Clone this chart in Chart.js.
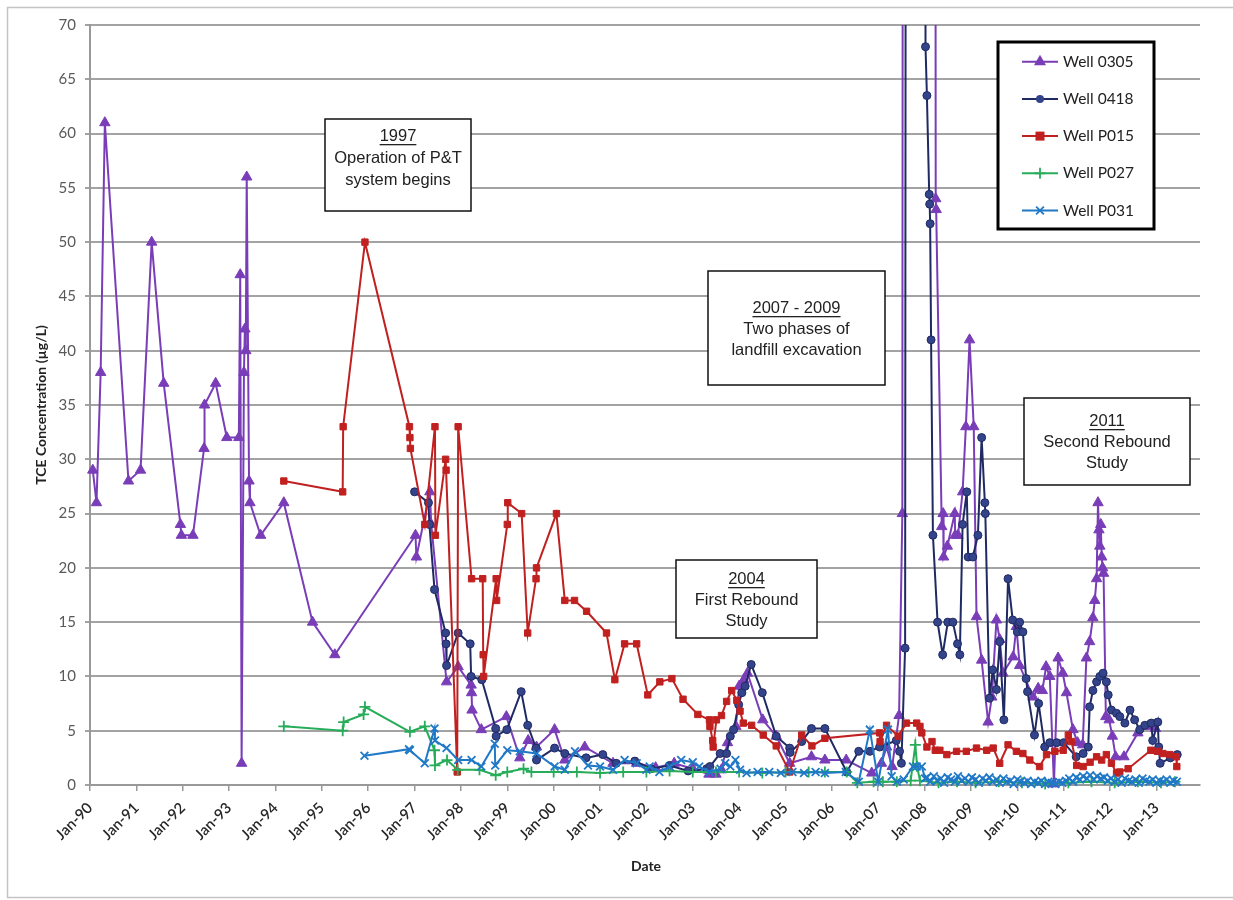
<!DOCTYPE html>
<html>
<head>
<meta charset="utf-8">
<script src="https://cdn.jsdelivr.net/npm/chart.js@4.4.1/dist/chart.umd.min.js"></script>
<style>
  body { margin: 0; background: #fff; }
  #wrap { width: 1233px; height: 900px; position: relative; }
</style>
</head>
<body>
<div id="wrap"><canvas id="chart"></canvas></div>
<script>
// tick labels for the date axis (one per January)
var yearLabels = ["Jan-90", "Jan-91", "Jan-92", "Jan-93", "Jan-94", "Jan-95", "Jan-96", "Jan-97",
    "Jan-98", "Jan-99", "Jan-00", "Jan-01", "Jan-02", "Jan-03", "Jan-04", "Jan-05", "Jan-06",
    "Jan-07", "Jan-08", "Jan-09", "Jan-10", "Jan-11", "Jan-12", "Jan-13"];
var yTicks = [0, 5, 10, 15, 20, 25, 30, 35, 40, 45, 50, 55, 60, 65, 70];

// [decimal year, TCE ug/L]  (values above 70 run off the top of the plot)
var well0305 = [
    [1990.06, 29], [1990.14, 26], [1990.23, 38], [1990.32, 61], [1990.83, 28], [1991.09, 29],
    [1991.33, 50], [1991.59, 37], [1991.95, 24], [1991.97, 23], [1992.22, 23], [1992.46, 31],
    [1992.47, 35], [1992.71, 37], [1992.95, 32], [1993.21, 32], [1993.24, 47], [1993.27, 2],
    [1993.32, 38], [1993.34, 42], [1993.36, 40], [1993.38, 56], [1993.43, 28], [1993.45, 26],
    [1993.68, 23], [1994.18, 26], [1994.8, 15], [1995.28, 12], [1997.02, 23], [1997.04, 21],
    [1997.33, 27], [1997.36, 24], [1997.69, 9.5], [1997.94, 10.9], [1998.22, 9.2], [1998.23, 8.5],
    [1998.24, 6.9], [1998.44, 5.1], [1998.98, 6.3], [1999.27, 2.5], [1999.45, 4.1], [1999.63, 3.5],
    [2000.02, 5.1], [2000.24, 2.3], [2000.67, 3.5], [2001.28, 2.0], [2001.79, 2.0], [2002.2, 1.6],
    [2002.6, 2.0], [2003.0, 1.5], [2003.35, 1.0], [2003.5, 1.0], [2003.62, 1.4], [2003.75, 3.9],
    [2003.93, 5.4], [2004.0, 9.1], [2004.1, 9.7], [2004.18, 10.3], [2004.51, 6.0], [2004.8, 4.5],
    [2005.09, 2.0], [2005.56, 2.6], [2005.85, 2.3], [2006.31, 2.3], [2006.86, 1.1], [2007.07, 2.0],
    [2007.18, 3.5], [2007.3, 1.7], [2007.45, 6.4], [2007.52, 25], [2007.56, 300], [2008.2, 300],
    [2008.24, 54], [2008.25, 53], [2008.37, 23.8], [2008.4, 25], [2008.41, 21], [2008.49, 22],
    [2008.65, 25], [2008.66, 23], [2008.72, 23], [2008.82, 27], [2008.89, 33], [2008.97, 41],
    [2009.06, 33], [2009.12, 15.5], [2009.23, 11.5], [2009.37, 5.8], [2009.45, 8.1], [2009.55, 15.2],
    [2009.62, 13.4], [2009.69, 10.3], [2009.91, 11.8], [2009.98, 14.6], [2010.05, 11], [2010.34, 8.1],
    [2010.45, 8.9], [2010.54, 8.7], [2010.62, 10.9], [2010.7, 10], [2010.79, 0.1], [2010.88, 11.7],
    [2010.98, 10.3], [2011.06, 8.5], [2011.2, 5.1], [2011.3, 3.9], [2011.41, 3.7], [2011.49, 11.7],
    [2011.56, 13.2], [2011.63, 15.4], [2011.67, 17], [2011.71, 19], [2011.74, 26], [2011.76, 23.5],
    [2011.78, 22], [2011.8, 24], [2011.82, 21], [2011.84, 20], [2011.86, 19.5], [2011.91, 6.3],
    [2011.98, 6], [2012.05, 4.5], [2012.12, 2.6], [2012.3, 2.6], [2012.6, 4.8], [2012.82, 5.4],
    [2012.98, 5.2]
];

var well0418 = [
    [1997.0, 27], [1997.3, 26], [1997.32, 24], [1997.43, 18], [1997.67, 14], [1997.68, 13],
    [1997.69, 11], [1997.94, 14], [1998.2, 13], [1998.22, 10], [1998.45, 9.7], [1998.75, 5.2],
    [1998.76, 4.5], [1998.99, 5.1], [1999.3, 8.6], [1999.44, 5.5], [1999.62, 3.4], [1999.63, 2.3],
    [2000.02, 3.4], [2000.24, 2.9], [2000.7, 2.5], [2001.06, 2.8], [2001.35, 2.0], [2001.75, 2.2],
    [2002.1, 1.5], [2002.5, 1.8], [2002.9, 1.3], [2003.3, 1.5], [2003.37, 1.7], [2003.59, 2.9],
    [2003.73, 2.9], [2003.81, 4.5], [2003.88, 5.1], [2003.99, 7.4], [2004.06, 8.5], [2004.13, 9.1],
    [2004.26, 11.1], [2004.5, 8.5], [2004.8, 4.5], [2005.09, 3.4], [2005.1, 3.0], [2005.35, 4.0],
    [2005.56, 5.2], [2005.85, 5.2], [2006.32, 1.2], [2006.58, 3.1], [2006.82, 3.1], [2007.03, 3.5],
    [2007.39, 4.1], [2007.46, 3.1], [2007.5, 2.0], [2007.58, 12.6], [2007.63, 300], [2007.98, 300],
    [2008.02, 68], [2008.05, 63.5], [2008.1, 54.4], [2008.11, 53.5], [2008.12, 51.7], [2008.14, 41],
    [2008.18, 23], [2008.28, 15], [2008.39, 12], [2008.5, 15], [2008.61, 15], [2008.71, 13],
    [2008.76, 12], [2008.82, 24], [2008.91, 27], [2008.94, 21], [2009.04, 21], [2009.15, 23],
    [2009.23, 32], [2009.3, 26], [2009.31, 25], [2009.4, 8], [2009.47, 10.6], [2009.55, 8.8],
    [2009.62, 13.2], [2009.71, 6], [2009.8, 19], [2009.9, 15.2], [2010.0, 14.1], [2010.05, 15],
    [2010.12, 14.1], [2010.19, 9.8], [2010.22, 8.6], [2010.37, 4.6], [2010.46, 7.5], [2010.59, 3.5],
    [2010.7, 3.9], [2010.85, 3.9], [2011.0, 3.9], [2011.27, 2.6], [2011.42, 2.9], [2011.53, 3.5],
    [2011.56, 7.2], [2011.63, 8.7], [2011.71, 9.5], [2011.78, 10], [2011.85, 10.3], [2011.92, 9.5],
    [2011.96, 8.3], [2012.03, 6.9], [2012.14, 6.6], [2012.21, 6.3], [2012.32, 5.7], [2012.43, 6.9],
    [2012.53, 6.0], [2012.64, 5.1], [2012.75, 5.5], [2012.89, 5.7], [2012.92, 4.1], [2013.03, 5.8],
    [2013.05, 3.5], [2013.08, 2.0], [2013.3, 2.5], [2013.45, 2.8]
];

var wellP015 = [
    [1994.18, 28], [1995.45, 27], [1995.46, 33], [1995.93, 50], [1996.89, 33], [1996.9, 32],
    [1996.91, 31], [1997.22, 24], [1997.44, 33], [1997.45, 23], [1997.67, 30], [1997.68, 29],
    [1997.92, 1.2], [1997.94, 33], [1998.23, 19], [1998.47, 19], [1998.48, 12], [1998.49, 10],
    [1998.76, 19], [1998.77, 17], [1999.0, 24], [1999.01, 26], [1999.31, 25], [1999.44, 14],
    [1999.62, 19], [1999.63, 20], [2000.06, 25], [2000.24, 17], [2000.45, 17], [2000.71, 16],
    [2001.14, 14], [2001.32, 9.7], [2001.53, 13], [2001.79, 13], [2002.03, 8.3], [2002.29, 9.5],
    [2002.55, 9.8], [2002.79, 7.9], [2003.11, 6.5], [2003.36, 6.0], [2003.37, 5.4], [2003.43, 4.1],
    [2003.44, 3.5], [2003.51, 6.0], [2003.62, 6.4], [2003.73, 7.7], [2003.84, 8.7], [2003.95, 7.8],
    [2004.02, 6.8], [2004.09, 5.7], [2004.27, 5.5], [2004.52, 4.6], [2004.8, 3.6], [2005.09, 1.2],
    [2005.35, 4.6], [2005.57, 3.6], [2005.85, 4.3], [2007.03, 4.8], [2007.04, 4.0], [2007.18, 5.5],
    [2007.43, 4.5], [2007.61, 5.7], [2007.83, 5.7], [2007.9, 5.4], [2007.94, 4.8], [2008.05, 3.5],
    [2008.16, 4.0], [2008.23, 3.2], [2008.33, 3.2], [2008.48, 2.8], [2008.69, 3.1], [2008.9, 3.1],
    [2009.12, 3.4], [2009.34, 3.2], [2009.48, 3.4], [2009.62, 2.0], [2009.8, 3.7], [2009.98, 3.1],
    [2010.12, 2.9], [2010.27, 2.3], [2010.48, 1.7], [2010.63, 2.8], [2010.81, 3.1], [2010.99, 3.2],
    [2011.1, 4.6], [2011.17, 4.0], [2011.28, 1.8], [2011.42, 1.7], [2011.57, 2.1], [2011.71, 2.6],
    [2011.82, 2.3], [2011.92, 2.8], [2012.03, 2.0], [2012.14, 1.1], [2012.21, 1.2], [2012.39, 1.5],
    [2012.88, 3.2], [2013.02, 3.1], [2013.14, 2.9], [2013.29, 2.8], [2013.43, 2.6], [2013.44, 1.7]
];

var wellP027 = [
    [1994.18, 5.4], [1995.45, 5.0], [1995.47, 5.8], [1995.9, 6.5], [1995.93, 7.2], [1996.9, 4.9],
    [1997.22, 5.4], [1997.43, 3.2], [1997.44, 1.8], [1997.7, 2.3], [1997.93, 1.4], [1998.4, 1.4],
    [1998.75, 0.9], [1999.0, 1.2], [1999.35, 1.5], [1999.52, 1.2], [2000.0, 1.2], [2000.5, 1.2],
    [2001.0, 1.1], [2001.5, 1.2], [2002.0, 1.2], [2002.5, 1.3], [2003.0, 1.2], [2003.5, 1.2],
    [2004.0, 1.2], [2004.5, 1.1], [2005.0, 1.2], [2005.5, 1.2], [2005.85, 1.2], [2006.32, 1.2],
    [2006.55, 0.2], [2006.9, 0.3], [2007.1, 0.3], [2007.4, 0.3], [2007.7, 0.4], [2007.8, 3.7],
    [2007.84, 1.7], [2007.9, 0.4], [2008.3, 0.2], [2008.7, 0.3], [2009.1, 0.2], [2009.6, 0.3],
    [2010.1, 0.2], [2010.6, 0.1], [2011.1, 0.2], [2011.6, 0.3], [2012.1, 0.2], [2012.6, 0.3],
    [2013.1, 0.2], [2013.4, 0.3]
];

var wellP031 = [
    [1995.92, 2.7], [1996.88, 3.3], [1996.9, 3.2], [1997.22, 2.0], [1997.43, 5.2], [1997.44, 4.1],
    [1997.69, 3.4], [1997.94, 2.3], [1998.23, 2.3], [1998.44, 1.7], [1998.73, 3.8], [1998.74, 1.8],
    [1999.0, 3.2], [1999.27, 3.1], [1999.63, 2.9], [2000.02, 1.7], [2000.24, 1.4], [2000.46, 3.1],
    [2000.74, 1.8], [2001.0, 1.7], [2001.28, 1.4], [2001.53, 2.3], [2001.79, 2.0], [2002.0, 1.4],
    [2002.07, 1.7], [2002.28, 1.2], [2002.5, 1.7], [2002.75, 2.3], [2003.0, 2.1], [2003.14, 1.7],
    [2003.36, 1.2], [2003.6, 1.5], [2003.7, 2.0], [2003.81, 1.7], [2003.92, 2.3], [2004.02, 1.4],
    [2004.16, 1.1], [2004.4, 1.2], [2004.65, 1.2], [2004.9, 1.1], [2005.15, 1.2], [2005.4, 1.1],
    [2005.65, 1.2], [2005.85, 1.1], [2006.3, 1.2], [2006.58, 0.3], [2006.82, 5.1], [2007.0, 0.3],
    [2007.21, 5.1], [2007.29, 0.8], [2007.4, 0.3], [2007.55, 0.5], [2007.75, 1.7], [2007.83, 1.7],
    [2007.94, 1.7], [2008.01, 0.6],
    [2008.05, 0.7], [2008.12, 0.3], [2008.2, 0.8], [2008.27, 0.4], [2008.35, 0.6], [2008.42, 0.2],
    [2008.5, 0.7], [2008.57, 0.5], [2008.65, 0.3], [2008.72, 0.8], [2008.8, 0.4], [2008.87, 0.6],
    [2008.95, 0.3], [2009.02, 0.7], [2009.1, 0.5], [2009.17, 0.2], [2009.25, 0.6], [2009.32, 0.4],
    [2009.4, 0.7], [2009.47, 0.3], [2009.55, 0.5], [2009.62, 0.2], [2009.7, 0.6], [2009.77, 0.3],
    [2009.85, 0.4], [2009.92, 0.1], [2010.0, 0.5], [2010.07, 0.3], [2010.15, 0.2], [2010.22, 0.4],
    [2010.3, 0.1], [2010.37, 0.3], [2010.45, 0.2], [2010.52, 0.4], [2010.6, 0.1], [2010.67, 0.3],
    [2010.75, 0.2], [2010.82, 0.1], [2010.9, 0.3], [2010.97, 0.2], [2011.05, 0.4], [2011.12, 0.6],
    [2011.2, 0.3], [2011.27, 0.7], [2011.35, 0.5], [2011.42, 0.8], [2011.5, 0.6], [2011.57, 0.9],
    [2011.65, 0.5], [2011.72, 0.8], [2011.8, 0.6], [2011.87, 0.7], [2011.95, 0.4], [2012.02, 0.6],
    [2012.1, 0.3], [2012.17, 0.5], [2012.25, 0.2], [2012.32, 0.6], [2012.4, 0.4], [2012.47, 0.3],
    [2012.55, 0.5], [2012.62, 0.2], [2012.7, 0.6], [2012.77, 0.4], [2012.85, 0.3], [2012.92, 0.5],
    [2013.0, 0.2], [2013.07, 0.4], [2013.15, 0.3], [2013.22, 0.5], [2013.3, 0.2], [2013.37, 0.4],
    [2013.44, 0.3]
];

var seriesNames = ["Well 0305", "Well 0418", "Well P015", "Well P027", "Well P031"];
var seriesData = [well0305, well0418, wellP015, wellP027, wellP031];
var seriesColors = ["#7a3db8", "#1f2a63", "#c0201f", "#27ad5a", "#2079c7"];
var seriesFill = ["#7a3db8", "#34448a", "#c0201f", "#27ad5a", "#2079c7"];
var seriesMarkers = ["triangle", "circle", "rect", "cross", "crossRot"];
var markerSizes = [6, 4, 4.5, 5.5, 5.5];

// annotation boxes: [left, top, right, bottom, underlined line, other lines...]
var notes = [
    [325, 119, 471, 211, "1997", "Operation of P&T", "system begins"],
    [708, 271, 885, 385, "2007 - 2009", "Two phases of", "landfill excavation"],
    [676, 560, 817, 638, "2004", "First Rebound", "Study"],
    [1024, 398, 1190, 485, "2011", "Second Rebound", "Study"]
];
var noteLineY = [[136, 158, 180], [308, 329, 350], [579, 600, 621], [421, 442, 463]];

var datasets = seriesData.map(function (pts, i) {
    return {
        label: seriesNames[i],
        data: pts.map(function (p) { return { x: p[0], y: p[1] }; }),
        borderColor: seriesColors[i],
        backgroundColor: seriesFill[i],
        pointBackgroundColor: seriesFill[i],
        pointBorderColor: seriesColors[i],
        pointStyle: seriesMarkers[i],
        pointRadius: markerSizes[i],
        pointBorderWidth: i >= 3 ? 1.8 : 1,
        borderWidth: 2,
        tension: 0,
        order: 5 - i,
        clip: { left: 6, top: 0, right: 6, bottom: 8 },
    };
});

function drawMarker(ctx, style, x, y, r) {
    ctx.beginPath();
    if (style === "triangle") {
        ctx.moveTo(x, y - r * 1.15);
        ctx.lineTo(x + r, y + r * 0.6);
        ctx.lineTo(x - r, y + r * 0.6);
        ctx.closePath();
        ctx.fill();
    } else if (style === "circle") {
        ctx.arc(x, y, r, 0, Math.PI * 2);
        ctx.fill();
    } else if (style === "rect") {
        ctx.rect(x - r, y - r, r * 2, r * 2);
        ctx.fill();
    } else if (style === "cross") {
        ctx.moveTo(x, y - r); ctx.lineTo(x, y + r);
        ctx.moveTo(x - r, y); ctx.lineTo(x + r, y);
        ctx.stroke();
    } else {
        ctx.moveTo(x - r * 0.7, y - r * 0.7); ctx.lineTo(x + r * 0.7, y + r * 0.7);
        ctx.moveTo(x + r * 0.7, y - r * 0.7); ctx.lineTo(x - r * 0.7, y + r * 0.7);
        ctx.stroke();
    }
}

var decor = {
    id: "decor",
    beforeDraw: function (chart) {
        var ctx = chart.ctx;
        ctx.save();
        ctx.fillStyle = "#fff";
        ctx.fillRect(0, 0, chart.width, chart.height);
        ctx.strokeStyle = "#c4c4c4";
        ctx.lineWidth = 1.5;
        ctx.strokeRect(7.5, 7.5, 1260, 890);
        ctx.restore();
    },
    afterDraw: function (chart) {
        var ctx = chart.ctx;
        ctx.save();
        // axis titles
        ctx.fillStyle = "#222";
        ctx.font = "bold 14px Lato";
        ctx.textAlign = "center";
        ctx.textBaseline = "middle";
        ctx.fillText("Date", 646, 866);
        ctx.translate(41, 405);
        ctx.rotate(-Math.PI / 2);
        ctx.fillText("TCE Concentration (\u00b5g/L)", 0, 0);
        ctx.restore();

        // annotation boxes
        ctx.save();
        notes.forEach(function (n, k) {
            ctx.fillStyle = "#fff";
            ctx.fillRect(n[0], n[1], n[2] - n[0], n[3] - n[1]);
            ctx.strokeStyle = "#111";
            ctx.lineWidth = 1.5;
            ctx.strokeRect(n[0], n[1], n[2] - n[0], n[3] - n[1]);
            var cx = (n[0] + n[2]) / 2;
            ctx.fillStyle = "#222";
            ctx.font = "16.5px 'Liberation Sans'";
            ctx.textAlign = "center";
            ctx.textBaseline = "middle";
            for (var j = 0; j < 3; j++) {
                ctx.fillText(n[4 + j], cx, noteLineY[k][j]);
            }
            var w = ctx.measureText(n[4]).width;
            ctx.fillRect(cx - w / 2, noteLineY[k][0] + 8, w, 1.3);
        });
        ctx.restore();

        // legend
        ctx.save();
        ctx.fillStyle = "#fff";
        ctx.fillRect(998, 42, 156, 187);
        ctx.strokeStyle = "#000";
        ctx.lineWidth = 3;
        ctx.strokeRect(998, 42, 156, 187);
        seriesNames.forEach(function (name, i) {
            var y = 61.7 + i * 37.2;
            ctx.strokeStyle = seriesColors[i];
            ctx.lineWidth = 2;
            ctx.beginPath();
            ctx.moveTo(1022, y);
            ctx.lineTo(1058, y);
            ctx.stroke();
            ctx.fillStyle = seriesFill[i];
            ctx.lineWidth = 1.8;
            drawMarker(ctx, seriesMarkers[i], 1040, y, markerSizes[i]);
            ctx.fillStyle = "#222";
            ctx.font = "15.5px Lato";
            ctx.textAlign = "left";
            ctx.textBaseline = "middle";
            ctx.fillText(name, 1063, y);
        });
        ctx.restore();
    },
};

new Chart("chart", {
    type: "line",
    data: { datasets: datasets },
    options: {
        responsive: true,
        maintainAspectRatio: false,
        animation: false,
        layout: { padding: { left: 0, top: 25, right: 33, bottom: 0 } },
        plugins: {
            legend: { display: false },
            tooltip: { enabled: false },
        },
        scales: {
            x: {
                type: "linear",
                min: 1990,
                max: 2013.94,
                afterFit: function (scale) { scale.height = 115; },
                grid: {
                    drawOnChartArea: false,
                    drawTicks: true,
                    tickLength: 6,
                    color: "#999",
                    lineWidth: 1.5,
                },
                border: { color: "#999", width: 2 },
                ticks: {
                    stepSize: 1,
                    includeBounds: false,
                    autoSkip: false,
                    maxRotation: 45,
                    minRotation: 45,
                    padding: 8,
                    color: "#262626",
                    font: { family: "Lato", size: 15, weight: "600" },
                    callback: function (value) {
                        var k = Math.round(value - 1990);
                        return yearLabels[k] || "";
                    },
                },
            },
            y: {
                min: 0,
                max: 70,
                afterFit: function (scale) { scale.width = 90; },
                afterBuildTicks: function (scale) {
                    scale.ticks = yTicks.map(function (v) { return { value: v }; });
                },
                grid: {
                    color: "#a3a3a3",
                    lineWidth: 2,
                    tickLength: 5,
                },
                border: { color: "#999", width: 2 },
                ticks: {
                    padding: 9,
                    color: "#595959",
                    font: { family: "Lato", size: 15 },
                },
            },
        },
    },
    plugins: [decor],
});
</script>
</body>
</html>
